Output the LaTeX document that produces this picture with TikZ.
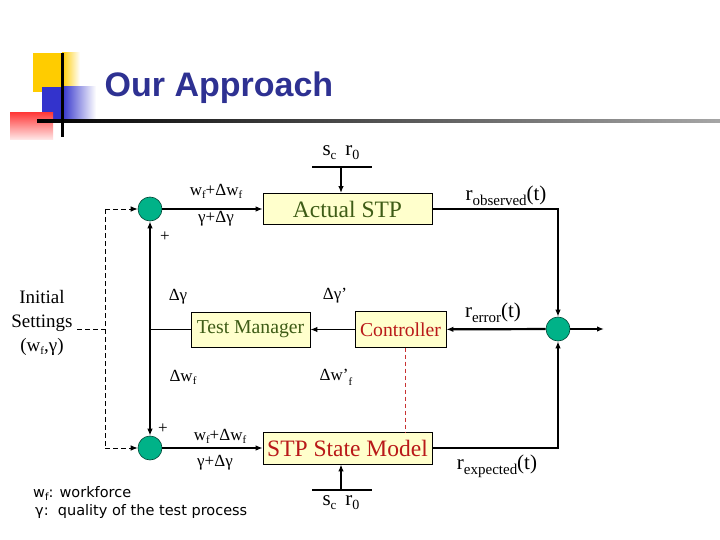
\documentclass[tikz,border=0pt]{standalone}
\usepackage{fontspec}
\setmainfont{Liberation Serif}
\newfontfamily\titlefont{Liberation Sans}
\newfontfamily\legendfont{DejaVu Sans}
\usetikzlibrary{arrows.meta}
\definecolor{boxfill}{RGB}{255,255,204}
\definecolor{sumgreen}{RGB}{0,178,136}
\definecolor{darkgreen}{RGB}{62,92,22}
\definecolor{darkred}{RGB}{185,25,25}
\definecolor{dashred}{RGB}{200,50,50}
\definecolor{titleblue}{RGB}{46,49,146}
\definecolor{decoyellow}{RGB}{255,204,0}
\definecolor{decoblue}{RGB}{51,51,204}
\definecolor{decored}{RGB}{255,60,60}
\newcommand\myfs[1]{\fontsize{#1}{#1}\selectfont}
\newcommand\wsub{w\raisebox{-3pt}{\fontsize{11}{11}\selectfont f}}
\newcommand\rsig[1]{{\myfs{21}r}\raisebox{-5pt}{\myfs{15}#1}{\myfs{21}(t)}}
\newcommand\scro{{\myfs{21}s\raisebox{-4pt}{\myfs{13}c}\hspace{9pt}r\raisebox{-4pt}{\myfs{14}0}}}
\begin{document}
\begin{tikzpicture}[x=1pt,y=-1pt,
  box/.style={draw=black, line width=0.8pt, fill=boxfill, inner sep=0pt},
  sumnode/.style={circle, draw=black!60!sumgreen, line width=0.6pt, fill=sumgreen, minimum size=24pt, inner sep=0pt},
  thinl/.style={line width=1.1pt},
  thickl/.style={line width=2.2pt},
  arr/.style={-{Latex[length=7pt,width=5.5pt]}},
  lab/.style={inner sep=0pt, font=\myfs{17}},
  dashl/.style={line width=0.9pt, dash pattern=on 5pt off 3pt}
]
\useasboundingbox (0,0) rectangle (720,540);
\fill[white] (0,0) rectangle (720,540);
% decoration
\fill[decoyellow] (33,53) rectangle (62,92);
\shade[left color=decoyellow, right color=white] (62,53) rectangle (80,92);
\fill[decoblue] (42,87) rectangle (62,120);
\shade[left color=decoblue, right color=white] (62,87) rectangle (96,120);
\shade[top color=decored, bottom color=decored!10] (10,113) rectangle (53,140);
\shade[left color=black, right color=black!35] (37,119.5) rectangle (720,122.5);
\fill[black] (61,53) rectangle (63.5,137);
\node[anchor=base, inner sep=0pt, text=titleblue, font=\titlefont\bfseries\myfs{34}] (title) at (219,97) {Our Approach};

% main nodes
\node[sumnode] (c1) at (150,209) {};
\node[sumnode] (c2) at (150,448) {};
\node[sumnode] (c3) at (558,329) {};
\node[box, minimum width=169pt, minimum height=31pt, font=\myfs{23.5}, text=darkgreen] (stp) at (347.5,209) {Actual STP};
\node[box, minimum width=169pt, minimum height=32pt, font=\myfs{23.5}, text=darkred] (model) at (347.5,448) {STP State Model};
\node[box, minimum width=119pt, minimum height=35pt, font=\myfs{19.7}, text=darkgreen] (tm) at (250.5,329.5) {Test Manager};
\node[box, minimum width=91pt, minimum height=36pt, font=\myfs{19.7}, text=darkred] (ctrl) at (400.5,329.5) {Controller};
\node[inner sep=1pt, align=center, font=\myfs{19}] (init) at (42,323) {Initial\\[5pt]Settings\\[5pt](\wsub,γ)};

% coordinates
\coordinate (j) at (150,329.5);
\coordinate (d0) at (77,329);
\coordinate (d1) at (105,329);
\coordinate (dtop) at (105,209);
\coordinate (dbot) at (105,448);
\coordinate (stl) at (312,167);
\coordinate (str) at (372,167);
\coordinate (stm) at (341,167);
\coordinate (sbl) at (312,490);
\coordinate (sbr) at (372,490);
\coordinate (sbm) at (341,490);
\coordinate (out) at (604,329);
\coordinate (cd) at (405,347.5);

% dashed initial-settings lines
\draw[dashl] (d0) -- (d1);
\draw[dashl] (dtop) -- (dbot);
\draw[dashl, arr] (dtop) -- (c1);
\draw[dashl, arr] (dbot) -- (c2);

% circles to boxes
\draw[thinl, arr] (c1) -- (stp);
\draw[thinl, arr] (c2) -- (model);

% feedback vertical
\draw[thinl] (tm) -- (j);
\draw[thickl, arr] (j) -- (c1);
\draw[thickl, arr] (j) -- (c2);

% controller
\draw[thinl, arr] (ctrl) -- (tm);
\draw[thickl, arr] (c3) -- (ctrl);
\draw[dashred, line width=0.9pt, dash pattern=on 4pt off 3pt] (cd) -- (cd |- model.north);

% observed / expected
\draw[thickl, arr] (stp.east) -| (c3.north);
\draw[thickl, arr] (model.east) -| (c3.south);
\draw[thickl, arr] (c3) -- (out);

% s_c r_0 inputs
\draw[thinl] (stl) -- (str);
\draw[thickl, arr] (stm) -- (stm |- stp.north);
\draw[thinl] (sbl) -- (sbr);
\draw[thickl, arr] (sbm) -- (sbm |- model.south);
\node[inner sep=0pt] (sctop) at (341,153) {\scro};
\node[inner sep=0pt] (scbot) at (341,503) {\scro};

% labels
\node[lab] (l1) at (216,191) {\wsub+Δ\wsub};
\node[lab] (l2) at (216,219) {γ+Δγ};
\node[lab] (l3) at (220,436) {\wsub+Δ\wsub};
\node[lab] (l4) at (215,463) {γ+Δγ};
\node[lab] (p1) at (165,237) {+};
\node[lab] (p2) at (163,429) {+};
\node[lab] (dg) at (178,297) {Δγ};
\node[lab] (dw) at (183,377) {Δ\wsub};
\node[lab] (dg2) at (335,296) {Δγ’};
\node[lab] (dw2) at (336,377) {Δw’\raisebox{-5pt}{\myfs{11}f}};
\node[inner sep=0pt] (ro) at (506,196) {\rsig{observed}};
\node[inner sep=0pt] (re) at (493,313) {\rsig{error}};
\node[inner sep=0pt] (rx) at (497,466) {\rsig{expected}};

% legend
\node[anchor=west, inner sep=0pt, font=\legendfont\myfs{14.5}] (leg1) at (33,493) {w\raisebox{-3pt}{\myfs{10}f}: workforce};
\node[anchor=west, inner sep=0pt, font=\legendfont\myfs{14.5}] (leg2) at (35,511) {γ:\ \ quality of the test process};
\end{tikzpicture}
\end{document}
